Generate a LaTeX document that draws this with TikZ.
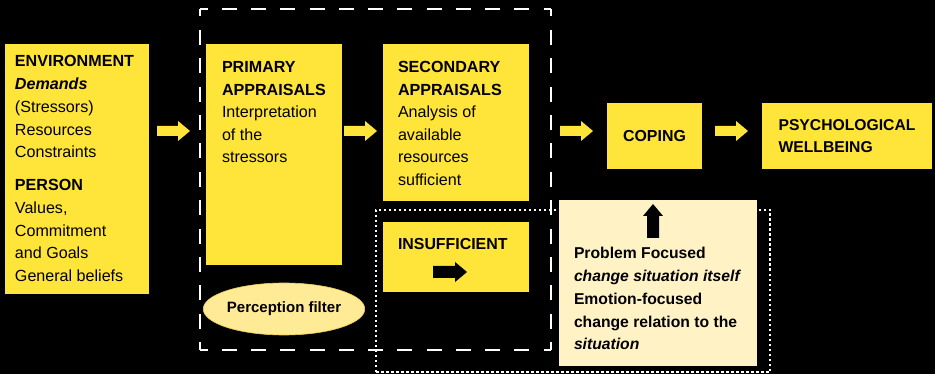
\documentclass[tikz,border=0pt]{standalone}
\usepackage{fontspec}
\setmainfont{Liberation Sans}
\usetikzlibrary{shapes.geometric}
\definecolor{stressyellow}{RGB}{255,228,58}
\definecolor{paleyellow}{RGB}{255,243,198}
\definecolor{filteryellow}{RGB}{255,234,150}
\definecolor{filteredge}{RGB}{235,205,90}
\tikzset{
  ybox/.style={fill=stressyellow, inner sep=0pt, outer sep=0pt, anchor=north west},
  txt/.style={inner sep=0pt, outer sep=0pt, anchor=north west, align=left, text=black,
    font=\fontsize{15.9}{22.7}\selectfont},
  frame/.style={draw=white, line width=2pt, inner sep=0pt, outer sep=0pt, anchor=north west},
  hdash/.style={draw=white, line width=2pt, dash pattern=on 15pt off 14.25pt, dash phase=7.5pt},
  vdash/.style={draw=white, line width=2pt, dash pattern=on 15pt off 13.4pt, dash phase=7.5pt},
  pics/yarrow/.style={code={\fill[stressyellow] (0,-5) -- (21,-5) -- (21,-10) -- (33,0) -- (21,10) -- (21,5) -- (0,5) -- cycle;}},
  pics/karrow/.style={code={\fill[black] (0,-6) -- (22,-6) -- (22,-10) -- (34,0) -- (22,10) -- (22,6) -- (0,6) -- cycle;}},
}
\begin{document}
\begin{tikzpicture}[x=1pt,y=-1pt]
\fill[black] (0,0) rectangle (935,374);
\useasboundingbox (0,0) rectangle (935,374);

% coping strategies frame (dotted) and its panel
\node[frame, dash pattern=on 2.5pt off 2.5pt, minimum width=394pt, minimum height=162pt] (copingzone) at (376,210) {};
\node[fill=paleyellow, inner sep=0pt, anchor=north west, minimum width=198pt, minimum height=166pt] (strategies) at (559,200) {};

% main boxes
\node[ybox, minimum width=144pt, minimum height=250pt] (env) at (5,44) {};
\node[ybox, minimum width=136pt, minimum height=221pt] (prim) at (206,44) {};
\node[ybox, minimum width=146pt, minimum height=157pt] (sec) at (383,44) {};
\node[ybox, minimum width=146pt, minimum height=70pt] (insuf) at (383,222) {};
\node[ybox, minimum width=95pt, minimum height=66pt] (coping) at (607,103) {};
\node[ybox, minimum width=170pt, minimum height=66pt] (wellbeing) at (762,103) {};

% appraisal frame (dashed, with corner pieces)
\coordinate (apNW) at (200,9);
\coordinate (apNE) at (551,9);
\coordinate (apSE) at (551,350);
\coordinate (apSW) at (200,350);
\draw[hdash] (apNW) -- (apNE);
\draw[hdash] (apSW) -- (apSE);
\draw[vdash] (apNW) -- (apSW);
\draw[vdash] (apNE) -- (apSE);

% texts
\node[txt, font=\fontsize{16.1}{22.75}\selectfont] (envtext) at (15,55.7) {\textbf{ENVIRONMENT}\\ \textbf{\textit{Demands}}\\ (Stressors)\\ Resources\\ Constraints\\[10pt] \textbf{PERSON}\\ Values,\\ Commitment\\ and Goals\\ General beliefs};
\node[txt, font=\fontsize{16.1}{22.5}\selectfont] (primtext) at (222,61.7) {\textbf{PRIMARY}\\ \textbf{APPRAISALS}\\ Interpretation\\ of the\\ stressors};
\node[txt, font=\fontsize{16.1}{22.5}\selectfont] (sectext) at (398,61.7) {\textbf{SECONDARY}\\ \textbf{APPRAISALS}\\ Analysis of\\ available\\ resources\\ sufficient};
\node[txt] (insuftext) at (398,238.7) {\textbf{INSUFFICIENT}};
\node[txt, anchor=center] (copingtext) at (coping.center) {\textbf{COPING}};
\node[txt, anchor=center, font=\fontsize{15.7}{22}\selectfont] (wellbeingtext) at (wellbeing.center) {\textbf{PSYCHOLOGICAL}\\ \textbf{WELLBEING}};
\node[txt, font=\fontsize{15.7}{22.75}\selectfont] (strategytext) at (574,247.5) {\textbf{Problem Focused}\\ \textbf{\textit{change situation itself}}\\ \textbf{Emotion-focused}\\ \textbf{change relation to the}\\ \textbf{\textit{situation}}};

% perception filter
\node[ellipse, fill=filteryellow, draw=filteredge, line width=0.6pt, minimum width=154pt, minimum height=52pt, inner sep=0pt] (filter) at (284,309) {\fontsize{15}{18}\selectfont\bfseries Perception filter};

% block arrows
\pic (a1) at (157,131) {yarrow};
\pic (a2) at (344,131) {yarrow};
\pic (a3) at (560,131) {yarrow};
\pic (a4) at (715,131) {yarrow};
\pic (a5) at (433,272) {karrow};
\pic[rotate=90] (a6) at (653,238) {karrow};
\end{tikzpicture}
\end{document}
